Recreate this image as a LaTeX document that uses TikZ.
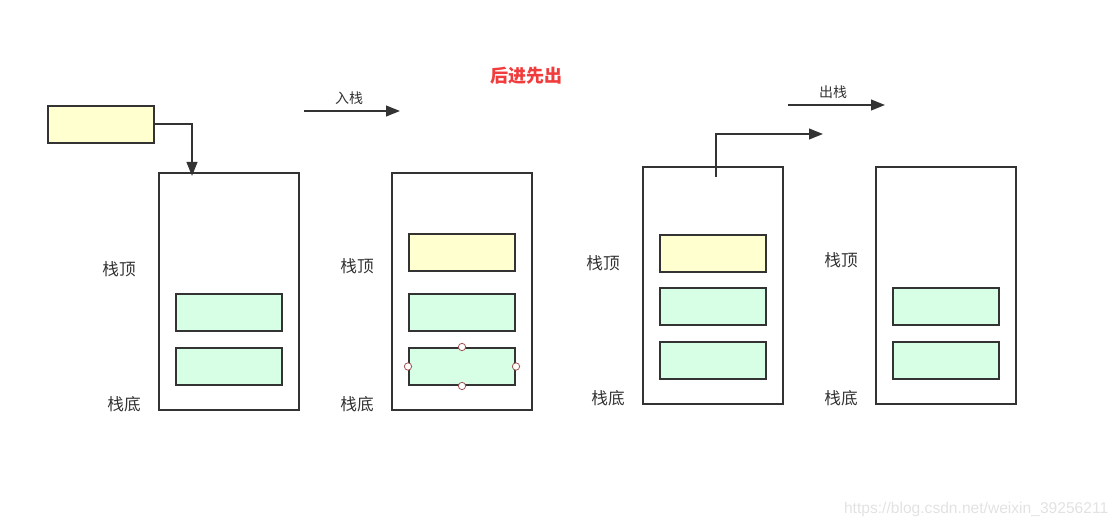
\documentclass[tikz,border=0pt]{standalone}
\usepackage{fontspec}
\setmainfont{Liberation Sans}
\newfontfamily\cjk{Noto Sans CJK SC}
\usetikzlibrary{arrows.meta}
\definecolor{ln}{HTML}{333333}
\definecolor{yel}{HTML}{FFFFD0}
\definecolor{grn}{HTML}{D6FFE6}
\definecolor{ttl}{HTML}{F03C3C}
\definecolor{hnd}{HTML}{A05050}
\definecolor{wm}{HTML}{E2E2E2}
\tikzset{
  stackbox/.style={draw=ln, line width=1.5pt, fill=white, minimum width=105pt, minimum height=177.75pt, inner sep=0pt},
  ybox/.style={draw=ln, line width=1.5pt, fill=yel, minimum width=79.5pt, minimum height=27.75pt, inner sep=0pt},
  gbox/.style={draw=ln, line width=1.5pt, fill=grn, minimum width=79.5pt, minimum height=27.75pt, inner sep=0pt},
  lbl/.style={font=\cjk\fontsize{12.5pt}{14pt}\selectfont, text=ln},
  albl/.style={font=\cjk\fontsize{10.5pt}{12pt}\selectfont, text=ln},
  conn/.style={draw=ln, line width=1.5pt, -{Triangle[length=10.5pt,width=8pt]}},
  hdl/.style={circle, draw=hnd, fill=white, line width=0.6pt, minimum size=5.5pt, inner sep=0pt},
}
\begin{document}
\begin{tikzpicture}[x=0.75pt, y=-0.75pt]
\useasboundingbox (0,0) rectangle (1120,527);
% title
\node[font=\cjk\bfseries\fontsize{13.5pt}{15pt}\selectfont, text=ttl] (title) at (526,76) {后进先出};
% moving element
\node[ybox] (y0) at (101,124.5) {};
% stack 1
\node[stackbox] (s1) at (229,291.5) {};
\node[gbox] (s1b) at (229,312.5) {};
\node[gbox] (s1c) at (229,366.5) {};
\node[lbl] (s1t) at (119,269) {栈顶};
\node[lbl] (s1d) at (124,404) {栈底};
\coordinate (in1) at (192,176);
\draw[conn] (y0.east) -| (in1);
% push arrow
\coordinate (p1) at (304,111);
\coordinate (p2) at (400,111);
\draw[conn] (p1) -- (p2);
\node[albl] (pl) at (349,98) {入栈};
% stack 2
\node[stackbox] (s2) at (462,291.5) {};
\node[ybox] (s2a) at (462,252.5) {};
\node[gbox] (s2b) at (462,312.5) {};
\node[gbox] (s2c) at (462,366.5) {};
\node[hdl] (h1) at (s2c.north) {};
\node[hdl] (h2) at (s2c.south) {};
\node[hdl] (h3) at (s2c.west) {};
\node[hdl] (h4) at (s2c.east) {};
\node[lbl] (s2t) at (357,266) {栈顶};
\node[lbl] (s2d) at (357,404) {栈底};
% stack 3
\node[stackbox] (s3) at (713,285.5) {};
\node[ybox] (s3a) at (713,253.5) {};
\node[gbox] (s3b) at (713,306.5) {};
\node[gbox] (s3c) at (713,360.5) {};
\node[lbl] (s3t) at (603,263) {栈顶};
\node[lbl] (s3d) at (608,398) {栈底};
\coordinate (o1) at (716,177);
\coordinate (o2) at (823,134);
\draw[conn] (o1) |- (o2);
% pop arrow
\coordinate (q1) at (788,105);
\coordinate (q2) at (885,105);
\draw[conn] (q1) -- (q2);
\node[albl] (ql) at (833,92) {出栈};
% stack 4
\node[stackbox] (s4) at (946,285.5) {};
\node[gbox] (s4b) at (946,306.5) {};
\node[gbox] (s4c) at (946,360.5) {};
\node[lbl] (s4t) at (841,260) {栈顶};
\node[lbl] (s4d) at (841,398) {栈底};
% watermark
\node[anchor=east, text=wm, font=\fontsize{11.7pt}{13pt}\selectfont] (wmk) at (1113,509) {https://blog.csdn.net/weixin\_39256211};
\end{tikzpicture}
\end{document}
